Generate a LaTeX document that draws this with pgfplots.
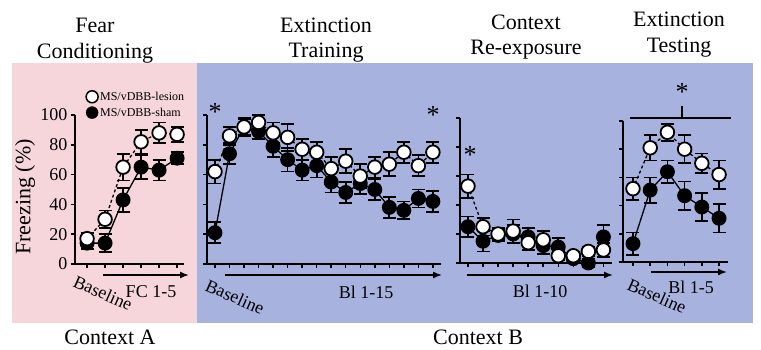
\documentclass[border=0pt]{standalone}
\usepackage{fontspec}
\setmainfont{Liberation Serif}
\usepackage{pgfplots}
\usepackage{pgfplotstable}
\pgfplotsset{compat=1.18}
\usetikzlibrary{arrows.meta}
\definecolor{pinkbg}{RGB}{246,214,219}
\definecolor{bluebg}{RGB}{168,178,222}
\newcommand{\fs}[1]{\fontsize{#1}{#1}\selectfont}

\pgfplotstableread{
x les lese sha shae
0 17 4 14 4
1 30 6 14 6
2 65 9 43 8
3 82 8 65 8
4 88 7 63 7
5 87 5 71 4
}\tA
\pgfplotstableread{
x les lese sha shae
0 62 8 21 7
1 86 6 74 7
2 92 6 92 5
3 95 5 89 5
4 88 7 79 7
5 85 9 70 8
6 77 7 63 7
7 75 7 66 8
8 64 8 55 7
9 69 8 48 7
10 59 8 54 7
11 65 7 50 7
12 67 8 38 7
13 75 7 36 6
14 66 7 44 6
15 75 7 42 7
}\tB
\pgfplotstableread{
x les lese sha shae
0 53 8 25 7
1 25 6 15 7
2 20 4 19 4
3 22 8 20 6
4 14 5 18 6
5 16 6 12 6
6 5 3 11 6
7 5 3 3 3
8 8 3 0 3
9 9 5 18 8
}\tC
\pgfplotstableread{
x les lese sha shae
0 52 8 13 8
1 81 9 51 9
2 92 6 64 8
3 80 10 47 10
4 70 7 39 10
5 62 10 31 10
}\tD

\pgfplotsset{
  panel/.style={
    scale only axis, clip=false,
    axis x line*=bottom, axis y line*=left,
    axis line style={line width=1.5pt, black},
    every tick/.style={line width=1.5pt, black},
    major tick length=4pt,
    tick align=outside,
    ymin=0, ymax=100, ytick={0,20,...,100},
    xticklabels={}, yticklabels={},
  },
  errs/.style={/pgfplots/error bars/y dir=both, /pgfplots/error bars/y explicit,
    /pgfplots/error bars/error bar style={line width=1.7pt, solid, black},
    /pgfplots/error bars/error mark options={rotate=90, mark size=6.5pt, line width=1.7pt, solid, black}},
  sham/.style={forget plot, black, solid, line width=1.3pt, mark=*, mark size=6.8pt,
    mark options={solid, fill=black, draw=black, line width=1.3pt}, errs},
  lesion/.style={forget plot, black, dash pattern=on 3pt off 2.5pt, line width=1.3pt, mark=*, mark size=6.8pt,
    mark options={solid, fill=white, draw=black, line width=1.8pt}, errs},
}

\begin{document}
\begin{tikzpicture}[x=1pt,y=1pt]
\path[use as bounding box] (0,0) rectangle (761,350);
\fill[pinkbg] (12,27) rectangle (197,287);
\fill[bluebg] (197,27) rectangle (753,287);

% titles
\node[anchor=base, font=\fs{22}] at (95,317) {Fear};
\node[anchor=base, font=\fs{22}] at (95,291) {Conditioning};
\node[anchor=base, font=\fs{22}] at (326,317) {Extinction};
\node[anchor=base, font=\fs{22}] at (326,292) {Training};
\node[anchor=base, font=\fs{22}] at (526,320) {Context};
\node[anchor=base, font=\fs{22}] at (526,295) {Re-exposure};
\node[anchor=base, font=\fs{22}] at (679,323) {Extinction};
\node[anchor=base, font=\fs{22}] at (679,297) {Testing};
\node[font=\fs{22}] at (110,13) {Context A};
\node[font=\fs{22}] at (478,13) {Context B};

% Panel 1
\begin{axis}[panel, at={(75pt,86pt)}, anchor=south west,
  width=109.3pt, height=149pt, xmin=-0.67, xmax=5.4, xtick={0,...,5},
  yticklabels={0,20,40,60,80,100},
  yticklabel style={font=\fs{18}},
  legend style={at={(axis description cs:0.1,1.17)}, anchor=north west, draw=none, fill=none,
    font=\fs{12}, row sep=2pt, inner sep=0pt, legend cell align=left},
  legend image code/.code={\draw[#1] plot coordinates {(0pt,0pt)};}]
\addlegendimage{only marks, mark=*, mark size=6pt, mark options={fill=white, draw=black, line width=1.5pt}}
\addlegendentry{MS/vDBB-lesion}
\addlegendimage{only marks, mark=*, mark size=6pt, mark options={fill=black, draw=black}}
\addlegendentry{MS/vDBB-sham}
\addplot[sham] table[x=x, y=sha, y error=shae] {\tA};
\addplot[lesion] table[x=x, y=les, y error=lese] {\tA};
\node[rotate=90, font=\fs{22}] at (axis description cs:-0.457,0.45) {Freezing (\%)};
\end{axis}

% Panel 2
\begin{axis}[panel, at={(207pt,86pt)}, anchor=south west,
  width=233.9pt, height=149pt, xmin=-0.55, xmax=15.55, xtick={0,...,15}]
\addplot[sham] table[x=x, y=sha, y error=shae] {\tB};
\addplot[lesion] table[x=x, y=les, y error=lese] {\tB};
\end{axis}

% Panel 3
\begin{axis}[panel, at={(460pt,87pt)}, anchor=south west,
  width=152pt, height=145pt, xmin=-0.53, xmax=9.57, xtick={0,...,9}]
\addplot[sham] table[x=x, y=sha, y error=shae] {\tC};
\addplot[lesion] table[x=x, y=les, y error=lese] {\tC};
\end{axis}

% Panel 4
\begin{axis}[panel, at={(623pt,88pt)}, anchor=south west,
  width=105pt, height=141pt, xmin=-0.58, xmax=5.52, xtick={0,...,5}]
\addplot[sham] table[x=x, y=sha, y error=shae] {\tD};
\addplot[lesion] table[x=x, y=les, y error=lese] {\tD};
\end{axis}

% arrows
\draw[line width=1.5pt, -{Latex[length=9pt,width=7pt]}] (103,75) -- (189,75);
\draw[line width=1.5pt, -{Latex[length=9pt,width=7pt]}] (225,75) -- (442,75);
\draw[line width=1.5pt, -{Latex[length=9pt,width=7pt]}] (467,75) -- (613,75);
\draw[line width=1.5pt, -{Latex[length=9pt,width=7pt]}] (651,78) -- (727,78);

% axis captions
\node[rotate=-24, font=\fs{18}] at (103,57) {Baseline};
\node[rotate=-24, font=\fs{18}] at (235,53) {Baseline};
\node[rotate=-24, font=\fs{18}] at (657,54) {Baseline};
\node[font=\fs{18}] at (151,58) {FC 1-5};
\node[font=\fs{18}] at (366,58) {Bl 1-15};
\node[font=\fs{18}] at (540,59) {Bl 1-10};
\node[font=\fs{18}] at (691,63) {Bl 1-5};

% significance marks
\node[anchor=north, inner sep=0pt, font=\fs{26}] at (215,247) {*};
\node[anchor=north, inner sep=0pt, font=\fs{26}] at (433,244) {*};
\node[anchor=north, inner sep=0pt, font=\fs{26}] at (470,204) {*};
\node[anchor=north, inner sep=0pt, font=\fs{26}] at (682,267) {*};
\draw[line width=1.5pt] (630,232) -- (731,232);
\draw[line width=1.5pt] (682,232) -- (682,244);
\end{tikzpicture}
\end{document}
